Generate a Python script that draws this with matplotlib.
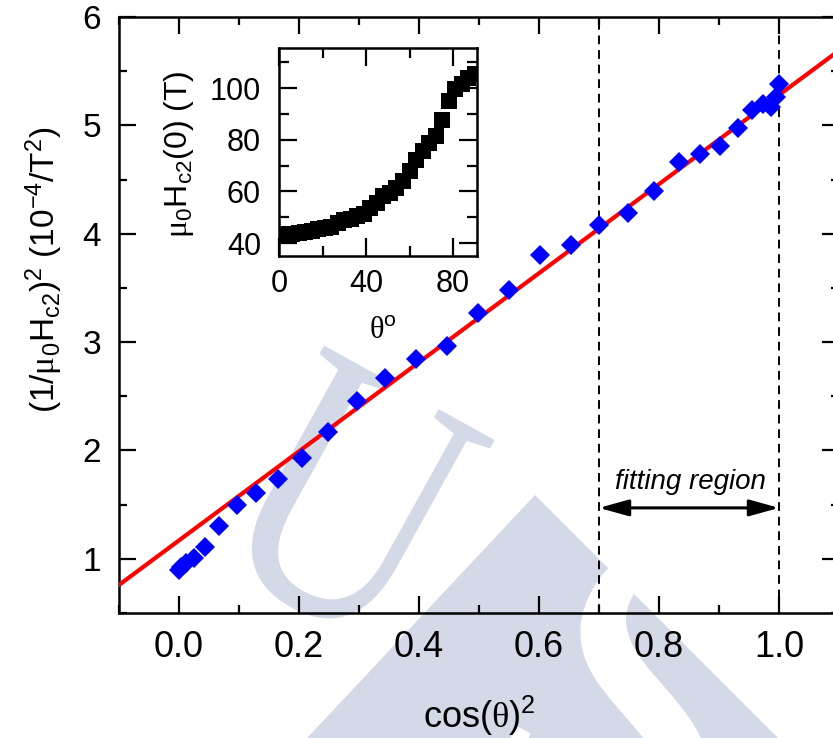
import matplotlib
matplotlib.use('Agg')
import numpy as np
import matplotlib.pyplot as plt
from matplotlib.ticker import MultipleLocator
from matplotlib.textpath import TextPath
from matplotlib.font_manager import FontProperties
from matplotlib.patches import PathPatch, Polygon
from matplotlib.transforms import Affine2D

plt.rcParams['font.family'] = ['Liberation Sans', 'DejaVu Sans']
plt.rcParams['mathtext.fontset'] = 'custom'
plt.rcParams['mathtext.rm'] = 'Liberation Sans'
plt.rcParams['mathtext.it'] = 'Liberation Sans:italic'
plt.rcParams['mathtext.bf'] = 'Liberation Sans:bold'
plt.rcParams['mathtext.sf'] = 'Liberation Serif'
plt.rcParams['mathtext.default'] = 'regular'

# main panel: (1/mu0 Hc2)^2 in 1e-4/T^2 against cos^2(theta)
cos2 = [0.000, 0.004, 0.012, 0.025, 0.043, 0.067, 0.096, 0.128, 0.165, 0.205,
        0.249, 0.296, 0.344, 0.395, 0.446, 0.499, 0.550, 0.602, 0.653, 0.700,
        0.749, 0.792, 0.833, 0.869, 0.902, 0.931, 0.955, 0.973, 0.986, 0.995,
        1.000]
inv_h2 = [0.90, 0.92, 0.96, 1.01, 1.11, 1.30, 1.50, 1.61, 1.74, 1.93,
          2.17, 2.46, 2.67, 2.84, 2.96, 3.27, 3.48, 3.80, 3.90, 4.08,
          4.19, 4.39, 4.66, 4.74, 4.81, 4.98, 5.14, 5.20, 5.17, 5.26,
          5.38]

# linear fit over the high cos^2 range
fit_slope = 4.11
fit_icpt = 1.17
fit_lo, fit_hi = 0.7, 1.0

# inset: mu0 Hc2(0) in T against angle
theta_deg = [0, 3, 6, 9, 12, 15, 18, 21, 24, 27, 30, 33, 36, 39, 42, 45,
             48, 51, 54, 57, 60, 63, 66, 69, 72, 75, 78, 81, 84, 87, 90]
hc2 = [43.1, 43.6, 43.7, 43.9, 44.1, 44.8, 45.6, 45.9, 46.3, 47.7, 48.9,
       49.5, 50.6, 51.3, 53.6, 55.4, 58.2, 59.4, 61.2, 63.9, 67.9, 72.0,
       75.8, 78.8, 81.6, 87.7, 94.9, 99.5, 101.5, 103.7, 105.4]
hc2_err = [2.0] * len(hc2)

W, H = 833, 738
fig = plt.figure(figsize=(W / 100, H / 100), dpi=100)


def glyph(ax, ch, cx, cy, w, h, ang, color, family='Liberation Serif'):
    tp = TextPath((0, 0), ch, size=1, prop=FontProperties(family=family))
    e = tp.get_extents()
    tr = (Affine2D().translate(-(e.x0 + e.x1) / 2, -(e.y0 + e.y1) / 2)
          .scale(w / e.width, -h / e.height).rotate_deg(ang).translate(cx, cy))
    ax.add_patch(PathPatch(tr.transform_path(tp), fc=color, ec='none'))


# faint logo behind the plot
bg = fig.add_axes([0, 0, 1, 1], zorder=-1)
bg.set_xlim(0, W)
bg.set_ylim(H, 0)
bg.axis('off')
wm = '#d3d9e7'
bg.add_patch(Polygon([(535, 495), (249, 800), (840, 800)], closed=True, fc=wm, ec='none'))
glyph(bg, 'S', 640, 710, 200, 330, 29, 'white')
glyph(bg, 'U', 350, 500, 195, 245, 29, wm)

ax = fig.add_axes([119 / W, 1 - 613 / H, 720 / W, 596 / H])
ax.set_facecolor('none')

xfit = np.array([-0.1, 1.1])
ax.plot(xfit, fit_icpt + fit_slope * xfit, color='red', lw=3, zorder=3)
ax.plot(cos2, inv_h2, 'D', color='blue', ms=10, mew=0, zorder=4)

for xv in (fit_lo, fit_hi):
    ax.axvline(xv, color='k', lw=1.4, ls=(0, (4.5, 3)), zorder=2)
ax.annotate('', xy=(fit_lo, 1.47), xytext=(fit_hi, 1.47),
            arrowprops=dict(arrowstyle='<|-|>,head_length=0.9,head_width=0.25',
                            color='k', lw=2.2, mutation_scale=20,
                            shrinkA=0, shrinkB=0))
ax.text(0.852, 1.71, 'fitting region', style='italic', fontsize=20,
        ha='center', va='center')

ax.set_xlim(-0.1, 1.1)
ax.set_ylim(0.5, 6)
ax.xaxis.set_major_locator(MultipleLocator(0.2))
ax.xaxis.set_minor_locator(MultipleLocator(0.1))
ax.yaxis.set_major_locator(MultipleLocator(1))
ax.yaxis.set_minor_locator(MultipleLocator(0.5))
ax.set_xticks([0.0, 0.2, 0.4, 0.6, 0.8, 1.0])
ax.set_xticklabels(['0.0', '0.2', '0.4', '0.6', '0.8', '1.0'])
ax.tick_params(which='both', direction='in', top=True, right=True, width=1.6)
ax.tick_params(which='major', length=12)
ax.tick_params(which='minor', length=6)
ax.tick_params(axis='x', labelsize=26, pad=12)
ax.tick_params(axis='y', labelsize=24, pad=13)
for s in ax.spines.values():
    s.set_linewidth(1.8)

ax.set_xlabel(r'cos$(\mathsf{\theta})^2$', fontsize=26)
ax.xaxis.set_label_coords(0.5, -0.135)
ax.set_ylabel(r'$(1/\mathsf{\mu}_0H_{c2})^2\ (10^{-4}/T^2)$', fontsize=24)
ax.yaxis.set_label_coords(-0.075, 0.576)

# inset
axin = fig.add_axes([279 / W, 1 - 256 / H, 198 / W, 208 / H])
axin.errorbar(theta_deg, hc2, yerr=hc2_err, fmt='s', color='k', ms=11,
              mew=0, elinewidth=1, capsize=8, capthick=1)
axin.set_xlim(0, 91)
axin.set_ylim(35, 115.5)
axin.xaxis.set_major_locator(MultipleLocator(40))
axin.xaxis.set_minor_locator(MultipleLocator(20))
axin.yaxis.set_major_locator(MultipleLocator(20))
axin.yaxis.set_minor_locator(MultipleLocator(10))
axin.tick_params(which='both', direction='in', top=True, right=True, width=1.6)
axin.tick_params(which='major', length=13)
axin.tick_params(which='minor', length=7)
axin.tick_params(axis='x', labelsize=22, pad=9)
axin.tick_params(axis='y', labelsize=22, pad=13)
for s in axin.spines.values():
    s.set_linewidth(1.8)
axin.set_xlabel(r'$\mathsf{\theta}^o$', fontsize=22)
axin.xaxis.set_label_coords(0.525, -0.29)
axin.set_ylabel(r'$\mathsf{\mu}_0H_{c2}(0)\ (T)$', fontsize=23)
axin.yaxis.set_label_coords(-0.42, 0.49)

fig.savefig('out.png', dpi=100)
